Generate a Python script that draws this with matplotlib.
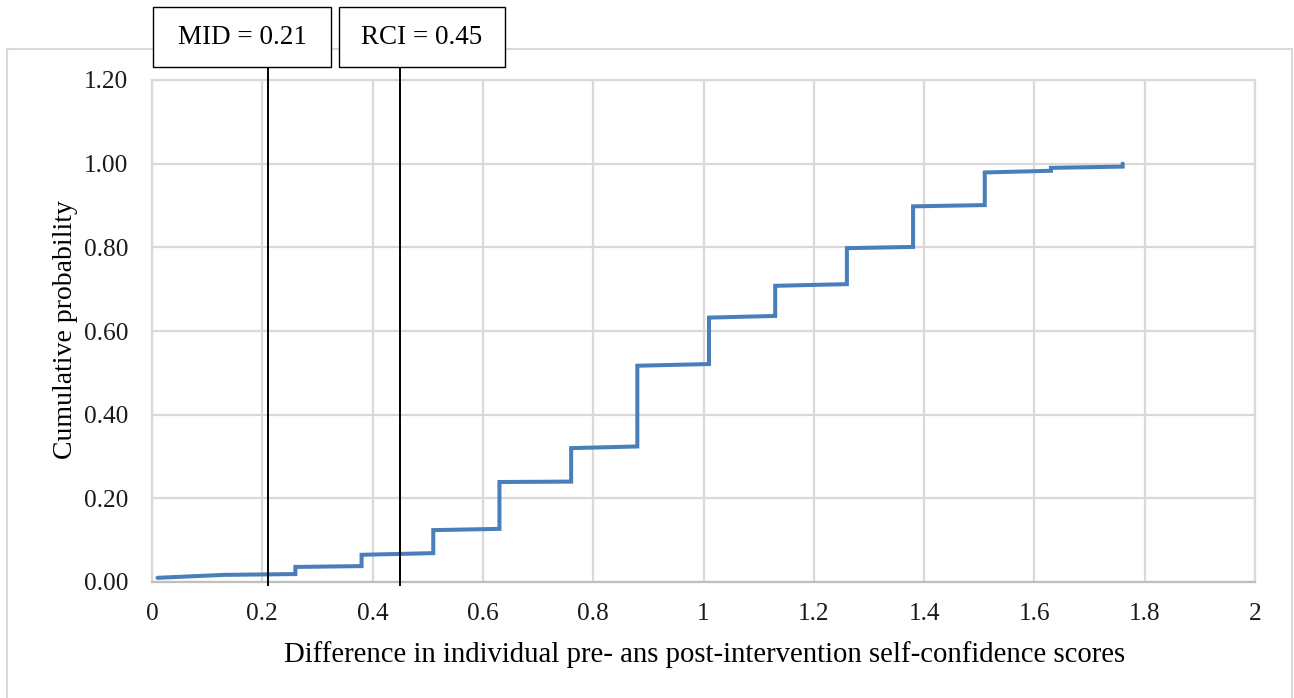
import matplotlib
matplotlib.use("Agg")
import matplotlib.pyplot as plt
from matplotlib.patches import Rectangle
from matplotlib.transforms import blended_transform_factory

plt.rcParams['font.family'] = ['Liberation Serif', 'DejaVu Serif']

# Cumulative distribution of change scores (vertices of the step curve)
diff_scores = [0.01, 0.13, 0.26, 0.26, 0.38, 0.38, 0.51, 0.51, 0.63, 0.63,
               0.76, 0.76, 0.88, 0.88, 1.01, 1.01, 1.13, 1.13, 1.26, 1.26,
               1.38, 1.38, 1.51, 1.51, 1.63, 1.63, 1.76, 1.76]
cum_prob = [0.010, 0.017, 0.019, 0.036, 0.038, 0.065, 0.069, 0.124, 0.127, 0.239,
            0.240, 0.320, 0.324, 0.517, 0.521, 0.632, 0.636, 0.708, 0.712, 0.798,
            0.801, 0.898, 0.901, 0.979, 0.983, 0.990, 0.993, 1.000]

# Reference thresholds
threshold_names = ["MID", "RCI"]
threshold_values = [0.21, 0.45]

x_ticks = [0, 0.2, 0.4, 0.6, 0.8, 1, 1.2, 1.4, 1.6, 1.8, 2]
x_tick_labels = ["0", "0.2", "0.4", "0.6", "0.8", "1", "1.2", "1.4", "1.6", "1.8", "2"]
y_ticks = [0.0, 0.2, 0.4, 0.6, 0.8, 1.0, 1.2]
y_tick_labels = ["0.00", "0.20", "0.40", "0.60", "0.80", "1.00", "1.20"]

W, H = 1294, 698
fig = plt.figure(figsize=(W / 100, H / 100), dpi=100)
fig.patch.set_facecolor("white")

# Outer chart frame
fig.patches.append(Rectangle((7 / W, -0.02), (1292 - 7) / W, 1 - 49 / H + 0.02,
                             transform=fig.transFigure, fill=False,
                             edgecolor="#d9d9d9", linewidth=1.5, zorder=0))

ax = fig.add_axes([152 / W, 1 - 582 / H, (1255 - 152) / W, (582 - 80) / H])
ax.set_xlim(0, 2)
ax.set_ylim(0, 1.2)

grid_col = "#d9d9d9"
ax.set_xticks(x_ticks)
ax.set_xticklabels(x_tick_labels)
ax.set_yticks(y_ticks)
ax.set_yticklabels(y_tick_labels)
ax.grid(True, color=grid_col, linewidth=1.6)
ax.set_axisbelow(True)
for side, sp in ax.spines.items():
    sp.set_color(grid_col)
    sp.set_linewidth(1.6)
ax.spines["bottom"].set_color("#bfbfbf")
ax.tick_params(length=0, labelsize=18.3, colors="#1a1a1a")
ax.tick_params(axis="x", pad=15)
ax.tick_params(axis="y", pad=17)

ax.plot(diff_scores, cum_prob, color="#4a7ebb", linewidth=2.9,
        solid_capstyle="round", solid_joinstyle="miter", zorder=3)

ax.set_xlabel("Difference in individual pre- ans post-intervention self-confidence scores",
              fontsize=20.7)
ax.set_ylabel("Cumulative probability", fontsize=20)
ax.xaxis.set_label_coords(0.501, -0.145)
ax.xaxis.label.set_verticalalignment("center")
ax.yaxis.set_label_coords(-0.078, 0.502)
ax.yaxis.label.set_verticalalignment("center")

# Threshold lines with their labelled boxes above the plot
trans = blended_transform_factory(ax.transData, ax.transAxes)
box_px = [(153, 331), (339, 505)]
top_px, bot_px = 7, 67
for name, val, (bx0, bx1) in zip(threshold_names, threshold_values, box_px):
    ax.plot([val, val], [-0.006, (582 - bot_px) / (582 - 80)], transform=trans,
            color="black", linewidth=1.4, clip_on=False, zorder=4)
    fig.patches.append(Rectangle((bx0 / W, 1 - bot_px / H), (bx1 - bx0) / W,
                                 (bot_px - top_px) / H, transform=fig.transFigure,
                                 facecolor="white", edgecolor="black",
                                 linewidth=1.0, zorder=5))
    fig.text((bx0 + bx1) / 2 / W, 1 - (top_px + bot_px) / 2 / H,
             f"{name} = {val:.2f}", ha="center", va="center",
             fontsize=19.5, zorder=6)

fig.savefig("out.png", dpi=100)
